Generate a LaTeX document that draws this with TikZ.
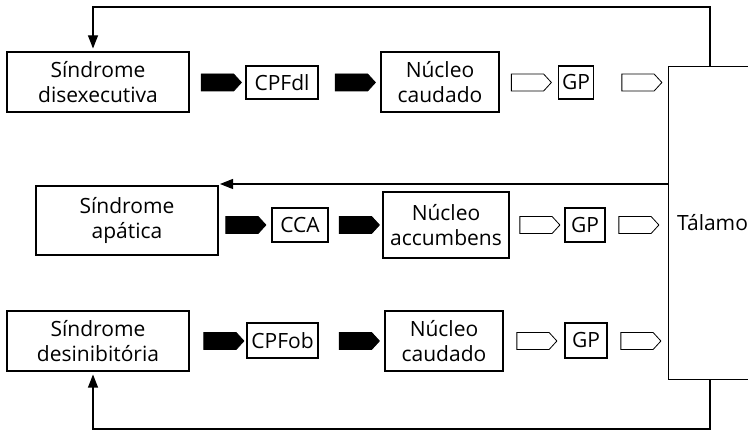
\documentclass[tikz,border=0pt]{standalone}
\usepackage{fontspec}
\setmainfont{Open Sans}
\usetikzlibrary{shapes.arrows,arrows.meta}
\tikzset{
  caixa/.style={draw, line width=1.1pt, inner sep=0pt, align=center,
    font=\fontsize{21}{25.5}\selectfont},
  setacheia/.style={single arrow, fill=black, draw=black, line width=0.8pt,
    single arrow head extend=0pt, single arrow tip angle=95,
    minimum height=40pt, minimum width=17pt, inner sep=0pt},
  setavazia/.style={setacheia, fill=white},
  retorno/.style={line width=1.1pt, -{Triangle[length=13pt,width=10pt]}, shorten >=3pt}
}
\begin{document}
\begin{tikzpicture}[x=1pt,y=1pt]
\useasboundingbox (0,0) rectangle (748,431);
% talamo
\node[caixa, minimum width=88pt, minimum height=313pt, anchor=north west] (tal) at (668,365) {Tálamo};
% circuito dorsolateral
\node[caixa, minimum width=182pt, minimum height=60pt] (dis) at (98,349) {Síndrome\\disexecutiva};
\node[setacheia] (s11) at (217.5,348.5) {};
\node[caixa, minimum width=72pt, minimum height=33pt] (cpfdl) at (282,348.5) {CPFdl};
\node[setacheia] (s12) at (351.5,348.5) {};
\node[caixa, minimum width=118pt, minimum height=60pt] (nc1) at (440,349) {Núcleo\\caudado};
\node[setavazia] (s13) at (527.5,348.5) {};
\node[caixa, minimum width=35pt, minimum height=33pt] (gp1) at (576,348.5) {GP};
\node[setavazia] (s14) at (638,348.5) {};
% circuito cingulado
\node[caixa, minimum width=182pt, minimum height=69pt] (apa) at (127,210.5) {Síndrome\\apática};
\node[setacheia] (s21) at (242,206) {};
\node[caixa, minimum width=56pt, minimum height=34pt] (cca) at (300,206) {CCA};
\node[setacheia] (s22) at (355.5,206) {};
\node[caixa, minimum width=126pt, minimum height=66pt] (acc) at (446,206) {Núcleo\\accumbens};
\node[setavazia] (s23) at (536,206) {};
\node[caixa, minimum width=40pt, minimum height=34pt] (gp2) at (585,206) {GP};
\node[setavazia] (s24) at (635,206) {};
% circuito orbitofrontal
\node[caixa, minimum width=182pt, minimum height=60pt] (des) at (98,90) {Síndrome\\desinibitória};
\node[setacheia] (s31) at (220,90) {};
\node[caixa, minimum width=71pt, minimum height=35pt] (cpfob) at (282.5,90.5) {CPFob};
\node[setacheia] (s32) at (355.5,90) {};
\node[caixa, minimum width=118pt, minimum height=60pt] (nc3) at (444,90) {Núcleo\\caudado};
\node[setavazia] (s33) at (533,90) {};
\node[caixa, minimum width=42pt, minimum height=35pt] (gp3) at (586,90.5) {GP};
\node[setavazia] (s34) at (637,90) {};
% retornos
\coordinate (c1) at (93,424);
\coordinate (c2) at (710,424);
\coordinate (c3) at (220,247);
\coordinate (c4) at (710,2);
\coordinate (c5) at (93,2);
\draw[retorno] (tal.north -| c2) -- (c2) -- (c1) -- (dis.north -| c1);
\draw[retorno, shorten >=0pt] (c3 -| tal.west) -- (c3);
\draw[retorno] (tal.south -| c4) -- (c4) -- (c5) -- (des.south -| c5);
\end{tikzpicture}
\end{document}
